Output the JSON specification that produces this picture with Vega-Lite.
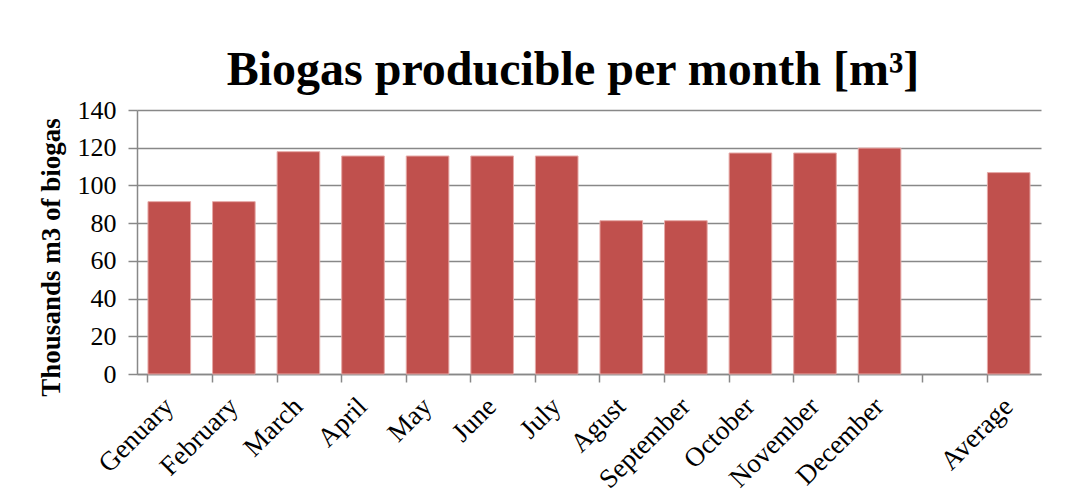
{
  "$schema": "https://vega.github.io/schema/vega-lite/v6.json",
  "autosize": "none",
  "width": 904,
  "height": 264,
  "padding": {"left": 137, "top": 110, "right": 39, "bottom": 123},
  "background": "white",
  "title": {
    "text": "Biogas producible per month [m³]",
    "font": "Liberation Serif",
    "fontSize": 48,
    "fontWeight": "bold",
    "color": "black",
    "anchor": "middle",
    "frame": "group",
    "dx": -16,
    "offset": 2
  },
  "data": {
    "values": [
      {"month": "Genuary", "value": 91.4},
      {"month": "February", "value": 91.4},
      {"month": "March", "value": 117.9},
      {"month": "April", "value": 115.6},
      {"month": "May", "value": 115.6},
      {"month": "June", "value": 115.6},
      {"month": "July", "value": 115.6},
      {"month": "Agust", "value": 81.3},
      {"month": "September", "value": 81.3},
      {"month": "October", "value": 117.2},
      {"month": "November", "value": 117.2},
      {"month": "December", "value": 119.8},
      {"month": "Average", "value": 106.8}
    ]
  },
  "config": {
    "view": {"stroke": null},
    "axis": {
      "labelFont": "Liberation Serif",
      "titleFont": "Liberation Serif",
      "labelColor": "black",
      "titleColor": "black",
      "domainColor": "#888888",
      "tickColor": "#888888",
      "gridColor": "#888888",
      "domainWidth": 1.5,
      "tickWidth": 1.5,
      "gridWidth": 1.3
    },
    "axisX": {"labelFontSize": 27},
    "axisY": {"labelFontSize": 26, "titleFontSize": 27}
  },
  "resolve": {"axis": {"x": "independent", "y": "independent"}},
  "layer": [
    {
      "mark": {"type": "bar", "color": "#C0504D", "stroke": "#E6A9A7", "strokeWidth": 1},
      "encoding": {
        "x": {
          "field": "month",
          "type": "nominal",
          "sort": null,
          "scale": {
            "domain": ["Genuary", "February", "March", "April", "May", "June", "July", "Agust", "September", "October", "November", "December", " ", "Average"],
            "paddingInner": 0.34,
            "paddingOuter": 0.17
          },
          "axis": {
            "orient": "bottom",
            "title": null,
            "labelAngle": -45,
            "labelFontSize": 27,
            "labelPadding": 28,
            "labelOverlap": false,
            "ticks": false,
            "domain": true,
            "labelAlign": "right",
            "labelBaseline": "middle"
          }
        },
        "y": {
          "field": "value",
          "type": "quantitative",
          "scale": {"domain": [0, 140], "nice": false},
          "axis": {
            "orient": "left",
            "title": "Thousands m3 of biogas",
            "titleFontSize": 27,
            "titleFontWeight": "bold",
            "titleX": -86,
            "titleY": 147,
            "titleAngle": -90,
            "titleAlign": "center",
            "titleBaseline": "middle",
            "labelFontSize": 26,
            "labelPadding": 12,
            "labelOverlap": false,
            "labelFlush": false,
            "tickSize": 9,
            "values": [0, 20, 40, 60, 80, 100, 120, 140],
            "grid": true
          }
        }
      }
    },
    {
      "mark": {"type": "bar", "opacity": 0},
      "encoding": {
        "x": {
          "field": "month",
          "type": "nominal",
          "sort": null,
          "axis": {
            "orient": "bottom",
            "title": null,
            "labels": false,
            "ticks": true,
            "tickSize": 8,
            "bandPosition": 0,
            "domain": false,
            "grid": false
          }
        },
        "y": {"field": "value", "type": "quantitative", "axis": null}
      }
    }
  ]
}
